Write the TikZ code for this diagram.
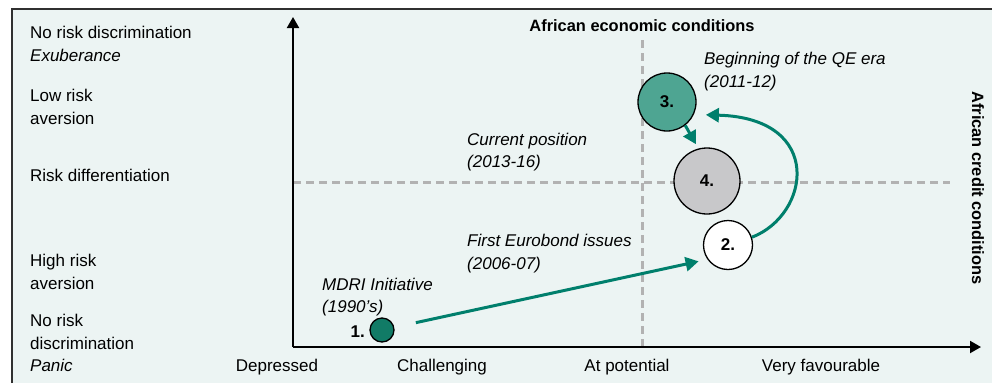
\documentclass[tikz,border=0pt]{standalone}
\usepackage{fontspec}
\setmainfont{Liberation Sans}
\usetikzlibrary{arrows.meta}
\definecolor{paper}{HTML}{ECF4F3}
\definecolor{frameline}{HTML}{303030}
\definecolor{flowteal}{HTML}{007F6C}
\definecolor{tealmid}{HTML}{4EA592}
\definecolor{tealdark}{HTML}{117B66}
\definecolor{bubblegray}{HTML}{C8C8CA}
\definecolor{guidegray}{HTML}{B2B2B2}
\begin{document}
\begin{tikzpicture}[x=1pt,y=-1pt,
  lbl/.style={font=\fontsize{17}{20}\selectfont, inner sep=0pt},
  ital/.style={font=\fontsize{17}{20}\selectfont\itshape, inner sep=0pt, anchor=base west},
  heading/.style={font=\fontsize{16.4}{20}\selectfont\bfseries, inner sep=0pt},
  bubble/.style={circle, draw=black, line width=1.3pt, inner sep=0pt,
    font=\fontsize{17}{20}\selectfont\bfseries},
  flow/.style={draw=flowteal, line width=3pt, -{Triangle[length=13pt,width=14pt]}},
  guide/.style={draw=guidegray, line width=3pt, dash pattern=on 8pt off 5pt},
  axis/.style={draw=black, line width=2pt, -{Triangle[length=11pt,width=12pt]}}]
\useasboundingbox (0,0) rectangle (992,383);
% panel background and frame
\fill[paper] (12,9) rectangle (992,383);
\draw[frameline, line width=2pt] (12,383) -- (12,9) -- (992,9);

% quadrant guides
\draw[guide] (293,182) -- (950,182);
\draw[guide] (642,40) -- (642,347);

% axes
\coordinate (origin) at (293,347);
\coordinate (ytip) at (293,17);
\coordinate (xtip) at (981,347);
\draw[axis] (origin) -- (ytip);
\draw[axis] (origin) -- (xtip);

% axis titles
\node[heading, anchor=base] (econ) at (642,31.5) {African economic conditions};
\node[heading, rotate=-90] (credit) at (978,188) {African credit conditions};

% vertical scale
\node[lbl, anchor=base west] (v1a) at (30,38) {No risk discrimination};
\node[lbl, anchor=base west, font=\fontsize{17}{20}\selectfont\itshape] (v1b) at (30,61.5) {Exuberance};
\node[lbl, anchor=base west] (v2a) at (30,101.5) {Low risk};
\node[lbl, anchor=base west] (v2b) at (30,124.5) {aversion};
\node[lbl, anchor=base west] (v3) at (30,181.5) {Risk differentiation};
\node[lbl, anchor=base west] (v4a) at (30,266.5) {High risk};
\node[lbl, anchor=base west] (v4b) at (30,289.5) {aversion};
\node[lbl, anchor=base west] (v5a) at (30,326.5) {No risk};
\node[lbl, anchor=base west] (v5b) at (30,349) {discrimination};
\node[lbl, anchor=base west, font=\fontsize{17}{20}\selectfont\itshape] (v5c) at (30,371.5) {Panic};

% horizontal scale
\node[lbl, anchor=base] (h1) at (277,371.5) {Depressed};
\node[lbl, anchor=base] (h2) at (442,371.5) {Challenging};
\node[lbl, anchor=base] (h3) at (627,371.5) {At potential};
\node[lbl, anchor=base] (h4) at (821,371.5) {Very favourable};

% stages
\node[bubble, fill=tealdark, minimum size=24pt] (c1) at (382,330) {};
\node[lbl, anchor=base east, font=\fontsize{17}{20}\selectfont\bfseries] (n1) at (365,337) {1.};
\node[bubble, fill=white, minimum size=49pt] (c2) at (728,245) {2.};
\node[bubble, fill=tealmid, minimum size=58pt] (c3) at (667,102) {3.};
\node[bubble, fill=bubblegray, minimum size=66pt] (c4) at (707,181) {4.};

% stage captions
\node[ital] (t1a) at (322,290.5) {MDRI Initiative};
\node[ital] (t1b) at (322,312) {(1990's)};
\node[ital] (t2a) at (467,246.5) {First Eurobond issues};
\node[ital] (t2b) at (467,269) {(2006-07)};
\node[ital] (t3a) at (704,64) {Beginning of the QE era};
\node[ital] (t3b) at (704,87) {(2011-12)};
\node[ital] (t4a) at (467,145) {Current position};
\node[ital] (t4b) at (467,167.5) {(2013-16)};

% transitions between stages
\draw[flow, shorten <=22pt, shorten >=9pt] (c1) -- (c2.215);
\draw[flow, shorten >=12pt] (c2.18) .. controls (810,215) and (825,118) .. (c3.-25);
\draw[flow, shorten >=5pt] (c3.-52) -- (c4.105);
\end{tikzpicture}
\end{document}
